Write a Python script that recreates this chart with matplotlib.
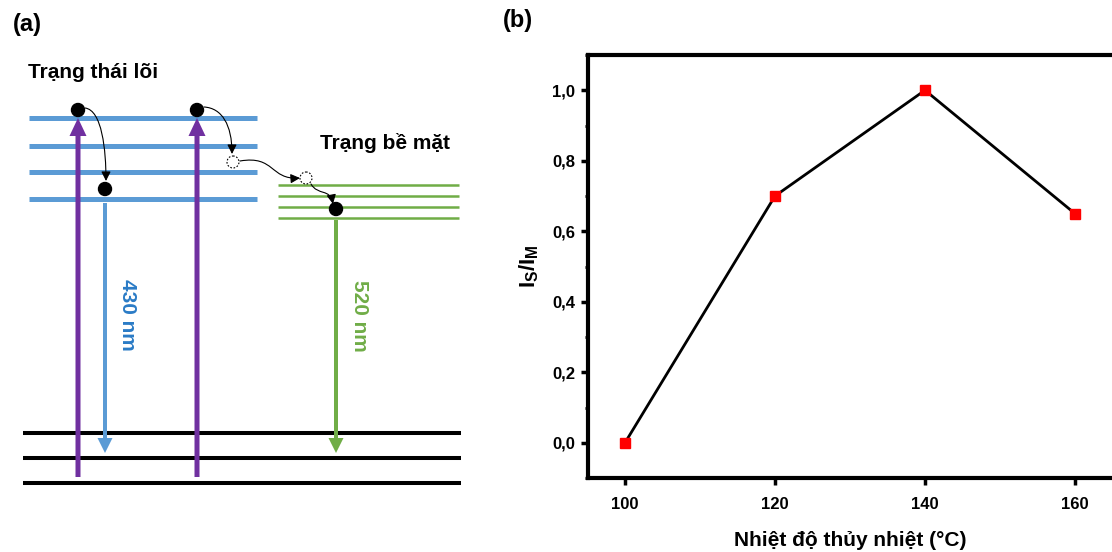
import matplotlib
matplotlib.use("Agg")
import matplotlib.pyplot as plt
from matplotlib.patches import Circle, FancyArrowPatch
from matplotlib.path import Path
from matplotlib.ticker import MultipleLocator, FuncFormatter

plt.rcParams['font.family'] = ['Liberation Sans', 'DejaVu Sans']
plt.rcParams['font.weight'] = 'bold'
plt.rcParams['mathtext.fontset'] = 'custom'
plt.rcParams['mathtext.bf'] = 'Liberation Sans:bold'
plt.rcParams['mathtext.rm'] = 'Liberation Sans:bold'

# --- data for panel (b) ---
temperature = [100, 120, 140, 160]
ratio = [0.0, 0.70, 1.0, 0.65]
x_ticks = [100, 120, 140, 160]
y_ticks = [0.0, 0.2, 0.4, 0.6, 0.8, 1.0]

# --- scheme labels for panel (a) ---
core_label = "Trạng thái lõi"
surface_label = "Trạng bề mặt"
core_emission = "430 nm"
surface_emission = "520 nm"

BLUE = '#5B9BD5'
BLUE_TXT = '#2A7BC6'
GREEN = '#70AD47'
PURPLE = '#7030A0'

W, H = 1112, 552
fig = plt.figure(figsize=(W / 100, H / 100), dpi=100)

# ---------------- (a) energy level scheme, drawn in pixel units ----------------
axa = fig.add_axes([0, 0, 480 / W, 1])
axa.set_xlim(0, 480)
axa.set_ylim(H, 0)
axa.axis('off')

core_levels = [118, 146, 172, 199]
surface_levels = [185, 196, 207, 218]
ground_levels = [433, 458, 483]

for y in core_levels:
    axa.plot([29, 257], [y, y], color=BLUE, lw=3.6, solid_capstyle='butt', zorder=1)
for y in surface_levels:
    axa.plot([278, 459], [y, y], color=GREEN, lw=1.8, solid_capstyle='butt', zorder=1)
for y in ground_levels:
    axa.plot([23, 461], [y, y], color='black', lw=2.9, solid_capstyle='butt', zorder=1)

# excitation arrows
for x in [78, 197]:
    axa.arrow(x, 477, 0, 118 - 477, width=5, head_width=17, head_length=18,
              length_includes_head=True, color=PURPLE, lw=0, zorder=3)
# emission arrows
axa.arrow(105, 203, 0, 453 - 203, width=4, head_width=15, head_length=15,
          length_includes_head=True, color=BLUE, lw=0, zorder=3)
axa.arrow(336, 220, 0, 453 - 220, width=4, head_width=15, head_length=15,
          length_includes_head=True, color=GREEN, lw=0, zorder=3)

# electrons
for cx, cy in [(78, 110), (197, 110), (105, 189), (336, 209)]:
    axa.add_patch(Circle((cx, cy), 6.5, color='black', zorder=5))
for cx, cy in [(233, 162), (306, 178)]:
    axa.add_patch(Circle((cx, cy), 6, facecolor='white', edgecolor='black',
                         lw=0.8, ls=(0, (1.5, 1.5)), zorder=5))

# relaxation paths (cubic curves)
curves = [[(85, 108), (102, 110), (106, 150), (106, 181)],
          [(204, 107), (222, 108), (232, 125), (232, 154)],
          [(240, 161), (275, 155), (270, 180), (300, 178)],
          [(311, 184), (318, 196), (330, 188), (333, 204)]]
codes = [Path.MOVETO, Path.CURVE4, Path.CURVE4, Path.CURVE4]
for pts in curves:
    axa.add_patch(FancyArrowPatch(path=Path(pts, codes), arrowstyle='-|>',
                                  color='black', lw=0.8, mutation_scale=14,
                                  zorder=4))

axa.text(28, 72, core_label, fontsize=15, fontweight='bold', ha='left', va='center')
axa.text(320, 143, surface_label, fontsize=15, fontweight='bold', ha='left', va='center')
axa.text(127, 315, core_emission, fontsize=15, fontweight='bold', color=BLUE_TXT,
         rotation=-90, ha='center', va='center')
axa.text(360, 316, surface_emission, fontsize=15, fontweight='bold', color=GREEN,
         rotation=-90, ha='center', va='center')
axa.text(27, 25, '(a)', fontsize=17, fontweight='bold', ha='center', va='center')

# ---------------- (b) intensity ratio vs temperature ----------------
axb = fig.add_axes([587.5 / W, 74 / H, 525 / W, 423 / H])
axb.plot(temperature, ratio, color='black', lw=2, zorder=2)
axb.plot(temperature, ratio, ls='none', marker='s', ms=7.5, color='#FF0000',
         markeredgecolor='#FF0000', zorder=3, clip_on=False)

axb.set_xlim(95, 165)
axb.set_ylim(-0.1, 1.1)
axb.set_xticks(x_ticks)
axb.set_yticks(y_ticks)
axb.yaxis.set_minor_locator(MultipleLocator(0.1))
axb.yaxis.set_major_formatter(FuncFormatter(lambda v, p: f"{v:.1f}".replace('.', ',')))
axb.tick_params(axis='both', which='major', direction='out', length=5, width=2.5,
                labelsize=12, pad=4)
axb.tick_params(axis='x', which='major', pad=9)
axb.tick_params(axis='y', which='minor', direction='out', length=2.5, width=2)
for lbl in axb.get_xticklabels() + axb.get_yticklabels():
    lbl.set_fontweight('bold')
for side in ['left', 'bottom', 'top']:
    axb.spines[side].set_linewidth(3)
axb.spines['right'].set_linewidth(2)

axb.set_xlabel('Nhiệt độ thủy nhiệt (°C)', fontsize=15, fontweight='bold', labelpad=13)
axb.set_ylabel(r'$\mathbf{I_S/I_M}$', fontsize=16, labelpad=8)

fig.text(518 / W, 1 - 21 / H, '(b)', fontsize=17, fontweight='bold',
         ha='center', va='center')

fig.savefig('out.png', dpi=100)
